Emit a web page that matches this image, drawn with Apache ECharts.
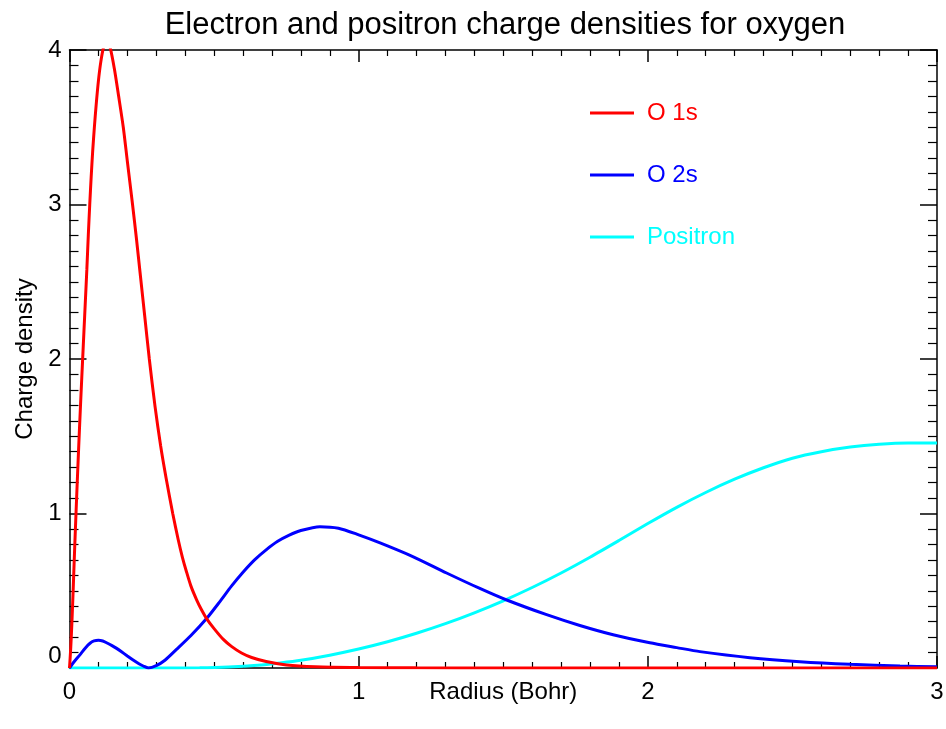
<!DOCTYPE html>
<html>
<head>
<meta charset="utf-8">
<script src="https://cdn.jsdelivr.net/npm/echarts@6/dist/echarts.min.js"></script>
<style>
html,body{margin:0;padding:0;background:#fff;}
#chart{width:946px;height:729px;}
</style>
</head>
<body>
<div id="chart"></div>
<script>
var titleText = 'Electron and positron charge densities for oxygen';
var xName = 'Radius (Bohr)';
var yName = 'Charge density';
var seriesNames = ['O 1s', 'O 2s', 'Positron'];
var seriesColors = ['#ff0000', '#0000ff', '#00ffff'];

var r1s = [0, 0.004, 0.008, 0.012, 0.016, 0.02, 0.025, 0.03, 0.035, 0.04, 0.045, 0.05, 0.055, 0.06, 0.065, 0.07, 0.075, 0.08, 0.086, 0.092, 0.1, 0.108, 0.118, 0.128, 0.14, 0.155, 0.17, 0.186, 0.2, 0.218, 0.232, 0.244, 0.26, 0.276, 0.296, 0.315, 0.334, 0.357, 0.376, 0.39, 0.405, 0.42, 0.44, 0.457, 0.474, 0.5, 0.532, 0.56, 0.595, 0.63, 0.68, 0.75, 0.85, 1.0, 1.2, 1.5, 2.0, 2.5, 3.0];
var v1s = [0, 0.12, 0.28, 0.47, 0.68, 0.88, 1.12, 1.35, 1.57, 1.78, 1.98, 2.18, 2.38, 2.58, 2.8, 3.0, 3.18, 3.34, 3.5, 3.64, 3.8, 3.92, 4.02, 4.06, 4.02, 3.88, 3.7, 3.5, 3.28, 3.0, 2.77, 2.56, 2.28, 2.0, 1.69, 1.44, 1.23, 1.0, 0.83, 0.72, 0.62, 0.53, 0.44, 0.375, 0.32, 0.255, 0.185, 0.14, 0.097, 0.068, 0.042, 0.02, 0.008, 0.003, 0.001, 0, 0, 0, 0];

var r2s = [0, 0.018, 0.036, 0.055, 0.071, 0.085, 0.1, 0.115, 0.13, 0.147, 0.163, 0.18, 0.2, 0.22, 0.24, 0.255, 0.273, 0.3, 0.33, 0.37, 0.42, 0.474, 0.52, 0.56, 0.6, 0.64, 0.68, 0.72, 0.76, 0.8, 0.866, 0.93, 1.0, 1.074, 1.189, 1.304, 1.419, 1.512, 1.65, 1.765, 1.88, 2.007, 2.1, 2.18, 2.353, 2.526, 2.699, 2.872, 3.0];
var v2s = [0, 0.045, 0.085, 0.13, 0.16, 0.175, 0.18, 0.175, 0.162, 0.145, 0.127, 0.105, 0.078, 0.052, 0.028, 0.013, 0, 0.015, 0.05, 0.12, 0.21, 0.32, 0.43, 0.53, 0.62, 0.7, 0.765, 0.82, 0.86, 0.89, 0.915, 0.905, 0.862, 0.81, 0.72, 0.615, 0.515, 0.44, 0.345, 0.275, 0.215, 0.163, 0.132, 0.106, 0.067, 0.041, 0.024, 0.013, 0.008];

var rPos = [0, 0.3, 0.45, 0.55, 0.65, 0.728, 0.8, 0.9, 1.0, 1.1, 1.2, 1.3, 1.4, 1.5, 1.6, 1.7, 1.8, 1.9, 2.0, 2.1, 2.2, 2.3, 2.4, 2.5, 2.6, 2.7, 2.8, 2.9, 3.0];
var vPos = [0, 0, 0.002, 0.007, 0.018, 0.033, 0.05, 0.083, 0.123, 0.17, 0.225, 0.287, 0.357, 0.435, 0.521, 0.615, 0.717, 0.825, 0.935, 1.04, 1.136, 1.222, 1.296, 1.358, 1.4, 1.43, 1.448, 1.456, 1.456];

var xTicks = [0, 1, 2, 3];
var yTicks = [0, 1, 2, 3, 4];

function pairs(xs, ys) { return xs.map(function (x, i) { return [x, ys[i]]; }); }

var FONT = 'Liberation Sans, Arial, Helvetica, sans-serif';
var chart = echarts.init(document.getElementById('chart'), null, {renderer: 'canvas'});

function xAxisDef(pos, showLabel) {
  return {
    type: 'value', position: pos, min: xTicks[0], max: xTicks[xTicks.length - 1], interval: 1,
    name: showLabel ? xName : '', nameLocation: 'middle', nameGap: 12, nameMoveOverlap: false,
    nameTextStyle: {fontFamily: FONT, fontSize: 24, color: '#000', verticalAlign: 'top'},
    axisLine: {show: true, onZero: false, lineStyle: {color: '#000', width: 1.5}},
    axisTick: {show: true, inside: true, length: 12, lineStyle: {color: '#000', width: 1.5}},
    minorTick: {show: true, splitNumber: 10, length: 6, lineStyle: {color: '#000', width: 1.2}},
    axisLabel: {show: showLabel, fontFamily: FONT, fontSize: 24, color: '#000', margin: 12},
    splitLine: {show: false}
  };
}
function yAxisDef(pos, showLabel) {
  return {
    type: 'value', position: pos, min: yTicks[0], max: yTicks[yTicks.length - 1], interval: 1,
    name: showLabel ? yName : '', nameLocation: 'middle', nameGap: 32, nameRotate: 90, nameMoveOverlap: false,
    nameTextStyle: {fontFamily: FONT, fontSize: 24, color: '#000'},
    axisLine: {show: true, onZero: false, lineStyle: {color: '#000', width: 1.5}},
    axisTick: {show: true, inside: true, length: 17, lineStyle: {color: '#000', width: 1.5}},
    minorTick: {show: true, splitNumber: 10, length: 9, lineStyle: {color: '#000', width: 1.2}},
    axisLabel: {show: showLabel, fontFamily: FONT, fontSize: 24, color: '#000', margin: 8,
      verticalAlignMinLabel: 'bottom'},
    splitLine: {show: false}
  };
}

var dataSets = [pairs(r1s, v1s), pairs(r2s, v2s), pairs(rPos, vPos)];

chart.setOption({
  backgroundColor: '#ffffff',
  animation: false,
  graphic: [{
    type: 'text', x: 505, y: 10, z: 10,
    style: {text: titleText, font: '31px ' + FONT, fill: '#000', textAlign: 'center', textVerticalAlign: 'top'}
  }],
  legend: {
    orient: 'vertical', left: 585, top: 96, itemWidth: 44, itemHeight: 3, itemGap: 38,
    icon: 'rect',
    data: seriesNames.map(function (n, i) {
      return {name: n, textStyle: {color: seriesColors[i]}};
    }),
    textStyle: {fontFamily: FONT, fontSize: 24, lineHeight: 24, padding: [0, 0, 0, 8]}
  },
  grid: {left: 69.5, right: 9, top: 50, bottom: 61, containLabel: false, outerBoundsMode: 'none'},
  xAxis: [xAxisDef('bottom', true), xAxisDef('top', false)],
  yAxis: [yAxisDef('left', true), yAxisDef('right', false)],
  series: seriesNames.map(function (n, i) {
    return {
      name: n, type: 'line', data: dataSets[i], showSymbol: false, symbol: 'none',
      smooth: 0.25, clip: true,
      lineStyle: {color: seriesColors[i], width: 3}, itemStyle: {color: seriesColors[i]},
      z: 3 - i
    };
  })
});
</script>
</body>
</html>
